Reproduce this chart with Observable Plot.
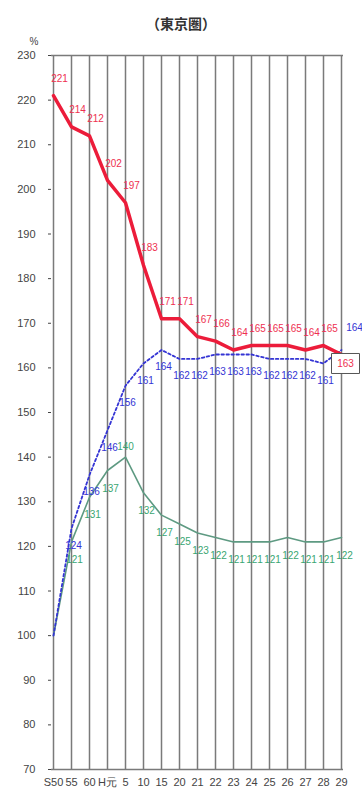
<!DOCTYPE html>
<html>
<head>
<meta charset="utf-8">
<script src="https://cdn.jsdelivr.net/npm/d3@7"></script>
<script src="https://cdn.jsdelivr.net/npm/@observablehq/plot@0.6"></script>
<style>
  body { margin: 0; background: #fff; width: 362px; overflow: hidden; }
  #title { height: 36px; box-sizing: border-box; padding-top: 13px; text-align: center;
           font: bold 14px/20px "Noto Sans CJK JP", sans-serif; color: #333; }
  svg { display: block; }
</style>
</head>
<body>
<div id="title">（東京圏）</div>
<div id="chart"></div>
<script>
const categories = ["S50","55","60","H元","5","10","15","20","21","22","23","24","25","26","27","28","29"];
const redValues   = [221,214,212,202,197,183,171,171,167,166,164,165,165,165,164,165,163];
const blueValues  = [100,124,136,146,156,161,164,162,162,163,163,163,162,162,162,161,164];
const greenValues = [100,121,131,137,140,132,127,125,123,122,121,121,121,122,121,121,122];
const yTicks = [70,80,90,100,110,120,130,140,150,160,170,180,190,200,210,220,230];

const rows = categories.map((cat, i) => ({cat, i, red: redValues[i], blue: blueValues[i], green: greenValues[i]}));
const last = rows.length - 1;

const RED = "#ec1c3a", REDTXT = "#ee3050", BLUE = "#3434d4", GREEN = "#5e9a82", GREENTXT = "#3aa672";
const boxSymbol = { draw(ctx) { ctx.rect(-14, -10, 28, 20); } };

const chart = Plot.plot({
  width: 362, height: 755,
  marginTop: 19, marginBottom: 22, marginLeft: 51, marginRight: 19,
  x: { type: "point", domain: categories, padding: 0, label: null },
  y: { domain: [70, 230], label: null },
  style: { fontFamily: "'Liberation Sans', Arial, sans-serif", fontSize: "11px", color: "#444", background: "white" },
  marks: [
    Plot.ruleX(categories, { stroke: "#7a7a7a", strokeWidth: 1.5 }),
    Plot.ruleY([70, 230], { stroke: "#7a7a7a", strokeWidth: 1.5 }),
    Plot.axisY({ ticks: yTicks, tickSize: 3, tickPadding: 13, tickFormat: d => d, fontSize: 11 }),
    Plot.axisX({ tickSize: 0, tickPadding: 9, fontSize: 11 }),
    Plot.text(["%"], { frameAnchor: "top-left", dx: -22, dy: -18, fontSize: 10, fill: "#444" }),
    // green series
    Plot.line(rows, { x: "cat", y: "green", stroke: GREEN, strokeWidth: 1.6 }),
    Plot.text(rows, { filter: d => d.i > 0 && d.i !== 4, x: "cat", y: "green", text: "green", fill: GREENTXT, fontSize: 10, dx: 3, dy: 18 }),
    Plot.text(rows, { filter: d => d.i === 4, x: "cat", y: "green", text: "green", fill: GREENTXT, fontSize: 10, dy: -10 }),
    // blue series
    Plot.line(rows, { x: "cat", y: "blue", stroke: BLUE, strokeWidth: 1.8, strokeDasharray: "2.5,2.5" }),
    Plot.text(rows, { filter: d => d.i > 0 && d.i < last, x: "cat", y: "blue", text: "blue", fill: BLUE, fontSize: 10, dx: 2, dy: 17 }),
    Plot.text(rows, { filter: d => d.i === last, x: "cat", y: "blue", text: "blue", fill: BLUE, fontSize: 10, dx: 13, dy: -22 }),
    // red series
    Plot.line(rows, { x: "cat", y: "red", stroke: RED, strokeWidth: 3.5 }),
    Plot.text(rows, { filter: d => d.i < last, x: "cat", y: "red", text: "red", fill: REDTXT, fontSize: 10, dx: 6, dy: -17 }),
    Plot.dot(rows, { filter: d => d.i === last, x: "cat", y: "red", symbol: boxSymbol, fill: "white", stroke: "#555", strokeWidth: 1, dx: 4, dy: 9 }),
    Plot.text(rows, { filter: d => d.i === last, x: "cat", y: "red", text: "red", fill: REDTXT, fontSize: 10, dx: 4, dy: 9 })
  ]
});
document.getElementById("chart").appendChild(chart);
</script>
</body>
</html>
